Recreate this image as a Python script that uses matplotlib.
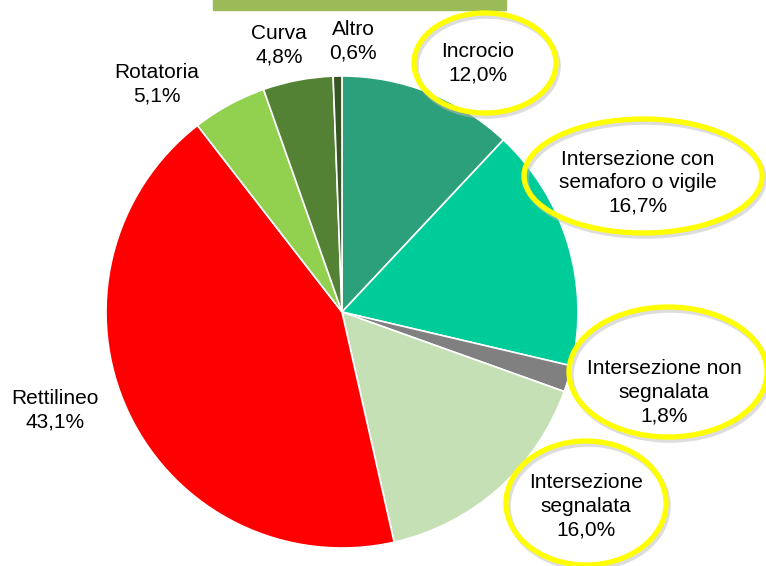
import matplotlib.pyplot as plt
from matplotlib.patches import Ellipse, Rectangle

plt.rcParams['font.family'] = ['Liberation Sans', 'DejaVu Sans']

# data, clockwise from 12 o'clock
labels = ["Incrocio", "Intersezione con\nsemaforo o vigile", "Intersezione non\nsegnalata",
          "Intersezione\nsegnalata", "Rettilineo", "Rotatoria", "Curva", "Altro"]
values = [12.0, 16.7, 1.8, 16.0, 43.1, 5.1, 4.8, 0.6]
colors = ["#2CA07B", "#00CC99", "#808080", "#C5E0B4", "#FF0000", "#92D050", "#548235", "#375623"]

# label positions in pixel coords (text centre)
label_pos = [(478, 63), (638, 183), (664, 392), (586, 506), (55, 410), (157, 84), (279, 45), (353, 41)]
ellipses = [(485, 63, 142, 100), (643, 176, 238, 114), (668, 372, 198, 130), (586, 503, 160, 124)]

fig = plt.figure(figsize=(7.66, 5.66), dpi=100)
ax = fig.add_axes([0, 0, 1, 1])

ax.add_patch(Rectangle((213, 0), 293, 10, color="#9BBB59", zorder=1))

ax.pie(values, colors=colors, startangle=270, counterclock=True,
       center=(342, 312), radius=236, frame=True,
       wedgeprops=dict(edgecolor="white", linewidth=1.2))
ax.set_xlim(0, 766)
ax.set_ylim(566, 0)
ax.set_aspect('equal')
ax.axis('off')

for (cx, cy, w, h) in ellipses:
    ax.add_patch(Ellipse((cx + 2, cy + 3), w, h, fill=False, edgecolor="#BDBDBD",
                         linewidth=4, alpha=0.5, zorder=4))
    ax.add_patch(Ellipse((cx, cy), w, h, fill=False, edgecolor="#FFFF00",
                         linewidth=3.8, zorder=5))

for lab, v, (x, y) in zip(labels, values, label_pos):
    txt = f"{lab}\n{v:.1f}%".replace(".", ",")
    ax.text(x, y, txt, ha="center", va="center", fontsize=15, color="#000000",
            linespacing=1.3, zorder=6)

fig.savefig("out.png", dpi=100)
